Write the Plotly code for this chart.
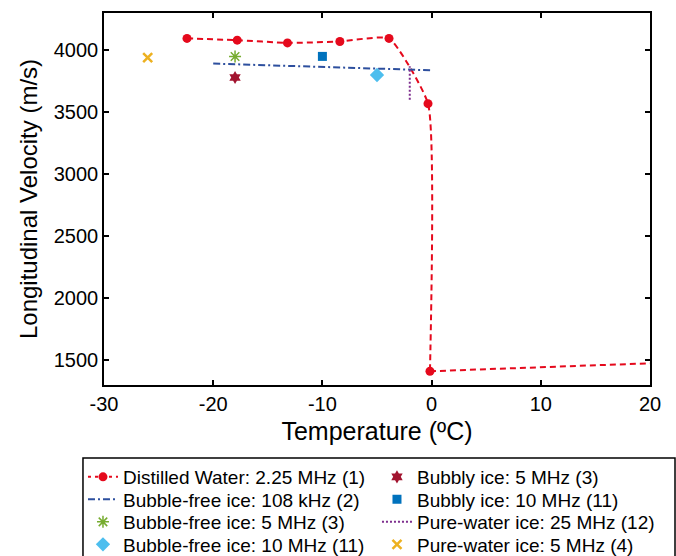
import plotly.graph_objects as go

# ---- data ----
ice_T = [-22.4, -17.8, -13.2, -8.4, -3.9, -0.33, -0.15]
ice_V = [4095, 4081, 4059, 4070, 4095, 3569, 1411]
liquid_T = [-0.15, 20]
liquid_V = [1411, 1475]

bf108_T = [-20, 0]
bf108_V = [3892, 3838]

bf5_T = [-18]
bf5_V = [3949]

bf10_T = [-5]
bf10_V = [3800]

bub5_T = [-18]
bub5_V = [3780]

bub10_T = [-10]
bub10_V = [3950]

pw25_T = [-2, -2]
pw25_V = [3600, 3870]

pw5_T = [-26]
pw5_V = [3940]

x_ticks = [-30, -20, -10, 0, 10, 20]
x_ticklabels = ["-30", "-20", "-10", "0", "10", "20"]
y_ticks = [1500, 2000, 2500, 3000, 3500, 4000]

RED = "#E5091C"
FONT = "Liberation Sans, Arial, sans-serif"
RED_DASH = "6px,4px"

fig = go.Figure()

# distilled water curve (smooth through ice points, straight in liquid range) + markers
fig.add_trace(go.Scatter(x=ice_T, y=ice_V, mode="lines",
                         line=dict(color=RED, width=2, dash=RED_DASH, shape="spline", smoothing=0.45),
                         showlegend=False, hoverinfo="skip"))
fig.add_trace(go.Scatter(x=liquid_T, y=liquid_V, mode="lines",
                         line=dict(color=RED, width=2, dash=RED_DASH),
                         showlegend=False, hoverinfo="skip"))
fig.add_trace(go.Scatter(x=ice_T, y=ice_V, mode="markers",
                         marker=dict(color=RED, size=9), showlegend=False))

# legend entries (one legend per row, two columns)
fig.add_trace(go.Scatter(x=[None], y=[None], mode="lines+markers", legend="legend",
                         name="Distilled Water: 2.25 MHz (1)",
                         line=dict(color=RED, width=2, dash="3px,4px"),
                         marker=dict(color=RED, size=9)))
fig.add_trace(go.Scatter(x=bub5_T, y=bub5_V, mode="markers", name="Bubbly ice: 5 MHz (3)",
                         legend="legend",
                         marker=dict(color="#A2142F", size=10, symbol="hexagram")))
fig.add_trace(go.Scatter(x=bf108_T, y=bf108_V, mode="lines", name="Bubble-free ice: 108 kHz (2)",
                         legend="legend2",
                         line=dict(color="#2D4F9E", width=2, dash="7px,3px,2px,3px")))
fig.add_trace(go.Scatter(x=bub10_T, y=bub10_V, mode="markers", name="Bubbly ice: 10 MHz (11)",
                         legend="legend2",
                         marker=dict(color="#0072BD", size=9, symbol="square")))
fig.add_trace(go.Scatter(x=bf5_T, y=bf5_V, mode="markers", name="Bubble-free ice: 5 MHz (3)",
                         legend="legend3",
                         marker=dict(color="#77AC30", size=10, symbol="asterisk-open",
                                     line=dict(color="#77AC30", width=1.5))))
fig.add_trace(go.Scatter(x=pw25_T, y=pw25_V, mode="lines", name="Pure-water ice: 25 MHz (12)",
                         legend="legend3",
                         line=dict(color="#7E2F8E", width=2, dash="2px,2px")))
fig.add_trace(go.Scatter(x=bf10_T, y=bf10_V, mode="markers", name="Bubble-free ice: 10 MHz (11)",
                         legend="legend4",
                         marker=dict(color="#4DBEEE", size=11, symbol="diamond")))
fig.add_trace(go.Scatter(x=pw5_T, y=pw5_V, mode="markers", name="Pure-water ice: 5 MHz (4)",
                         legend="legend4",
                         marker=dict(color="#EDB120", size=9, symbol="x-thin-open",
                                     line=dict(color="#EDB120", width=2.5))))

axis_common = dict(showline=True, linecolor="black", linewidth=1.5, mirror="ticks",
                   ticks="inside", ticklen=5, tickwidth=1.5, tickcolor="black",
                   showgrid=False, zeroline=False,
                   tickfont=dict(family=FONT, size=20, color="black"))

def row_legend(y):
    return dict(orientation="h", x=-0.0385, xanchor="left", y=y, yanchor="top",
                entrywidth=249, entrywidthmode="pixels",
                borderwidth=0, bgcolor="rgba(0,0,0,0)",
                font=dict(family=FONT, size=19, color="black"))

fig.update_layout(
    width=676, height=556,
    margin=dict(l=104, r=26, t=13, b=171, autoexpand=False),
    plot_bgcolor="white", paper_bgcolor="white",
    font=dict(family=FONT, color="black"),
    xaxis=dict(range=[-30, 20], tickvals=x_ticks, ticktext=x_ticklabels,
               title=dict(text="Temperature (ºC)", font=dict(family=FONT, size=25), standoff=9),
               **axis_common),
    yaxis=dict(range=[1300, 4300], tickvals=y_ticks,
               title=dict(text="Longitudinal Velocity (m/s)", font=dict(family=FONT, size=24), standoff=9),
               **axis_common),
    legend=row_legend(-0.1962),
    legend2=row_legend(-0.2567),
    legend3=row_legend(-0.3172),
    legend4=row_legend(-0.3777),
    shapes=[dict(type="rect", xref="paper", yref="paper",
                 x0=-0.0385, x1=1.0458, y0=-0.1962, y1=-0.6,
                 line=dict(color="black", width=1.5), fillcolor="rgba(0,0,0,0)", layer="below")],
)

fig.write_html("out.html")
